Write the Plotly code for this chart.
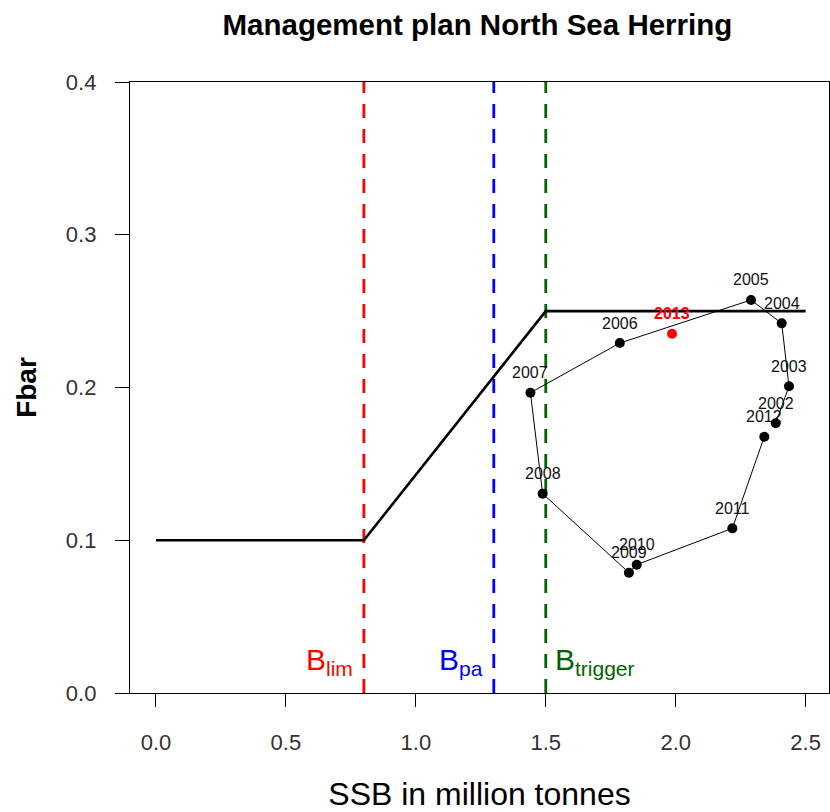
import plotly.graph_objects as go

# Stock trajectory (SSB in million tonnes, mean fishing mortality Fbar)
years = [2002, 2003, 2004, 2005, 2006, 2007, 2008, 2009, 2010, 2011, 2012]
ssb = [2.385, 2.436, 2.408, 2.290, 1.785, 1.441, 1.488, 1.820, 1.850, 2.218, 2.341]
fbar = [0.1766, 0.2008, 0.2420, 0.2573, 0.2291, 0.1966, 0.1305, 0.0788, 0.0840, 0.1078, 0.1678]

# Latest year, shown separately
last_year = [2013]
last_ssb = [1.986]
last_fbar = [0.2352]

# Harvest control rule
hcr_ssb = [0.0, 0.8, 1.5, 2.5]
hcr_f = [0.10, 0.10, 0.25, 0.25]

# Biomass reference points
ref_names = ["lim", "pa", "trigger"]
ref_values = [0.8, 1.3, 1.5]
ref_colors = ["#ff0000", "#0000ff", "#006400"]

x_ticks = [0.0, 0.5, 1.0, 1.5, 2.0, 2.5]
y_ticks = [0.0, 0.1, 0.2, 0.3, 0.4]

FONT = "Liberation Sans, Arial, sans-serif"

fig = go.Figure()

for val, col in zip(ref_values, ref_colors):
    fig.add_trace(go.Scatter(
        x=[val, val], y=[0, 0.4], mode="lines",
        line=dict(color=col, width=2.8, dash="14px,11px"),
        hoverinfo="skip", showlegend=False))

fig.add_trace(go.Scatter(
    x=hcr_ssb, y=hcr_f, mode="lines",
    line=dict(color="black", width=2.6), showlegend=False))

fig.add_trace(go.Scatter(
    x=ssb, y=fbar, mode="lines+markers",
    line=dict(color="black", width=1),
    marker=dict(color="black", size=10),
    showlegend=False))

fig.add_trace(go.Scatter(
    x=last_ssb, y=last_fbar, mode="markers",
    marker=dict(color="#ff0000", size=10),
    showlegend=False))

annotations = []
for yr, xv, yv in zip(years, ssb, fbar):
    annotations.append(dict(
        x=xv, y=yv, text=str(yr), showarrow=False, yshift=20,
        font=dict(family=FONT, size=16, color="#111111")))
for yr, xv, yv in zip(last_year, last_ssb, last_fbar):
    annotations.append(dict(
        x=xv, y=yv, text="<b>%d</b>" % yr, showarrow=False, yshift=20,
        font=dict(family=FONT, size=16, color="#ff0000")))

# Reference point labels near the bottom of the panel
for name, val, col in zip(ref_names, ref_values, ref_colors):
    on_left = name != "trigger"
    annotations.append(dict(
        x=val, y=0, yref="y", text="B<sub>%s</sub>" % name, showarrow=False,
        xanchor="right" if on_left else "left",
        xshift=-9 if on_left else 7,
        yanchor="bottom", yshift=11,
        font=dict(family=FONT, size=30, color=col)))

fig.update_layout(
    width=830, height=812,
    margin=dict(l=130, r=1, t=82, b=119),
    paper_bgcolor="white", plot_bgcolor="white",
    title=dict(text="<b>Management plan North Sea Herring</b>",
               x=0.497, xref="paper", xanchor="center",
               y=0.969, yanchor="middle",
               font=dict(family=FONT, size=29.5, color="black")),
    annotations=annotations,
    font=dict(family=FONT),
)

fig.update_xaxes(
    range=[-0.1, 2.59], tickvals=x_ticks,
    ticktext=["%.1f" % v for v in x_ticks],
    showgrid=False, zeroline=False,
    showline=True, mirror=True, linecolor="black", linewidth=1.3,
    ticks="outside", ticklen=13, tickwidth=1.3, tickcolor="black",
    ticklabelstandoff=16,
    tickfont=dict(family=FONT, size=22, color="#333333"),
    title=dict(text="SSB in million tonnes", standoff=31,
               font=dict(family=FONT, size=32, color="black")),
)
fig.update_yaxes(
    range=[0, 0.4], tickvals=y_ticks,
    ticktext=["%.1f" % v for v in y_ticks],
    showgrid=False, zeroline=False,
    showline=True, mirror=True, linecolor="black", linewidth=1.3,
    ticks="outside", ticklen=14, tickwidth=1.3, tickcolor="black",
    ticklabelstandoff=14,
    tickfont=dict(family=FONT, size=22, color="#333333"),
    title=dict(text="<b>Fbar</b>", standoff=21,
               font=dict(family=FONT, size=28, color="black")),
)

fig.write_html("out.html")
